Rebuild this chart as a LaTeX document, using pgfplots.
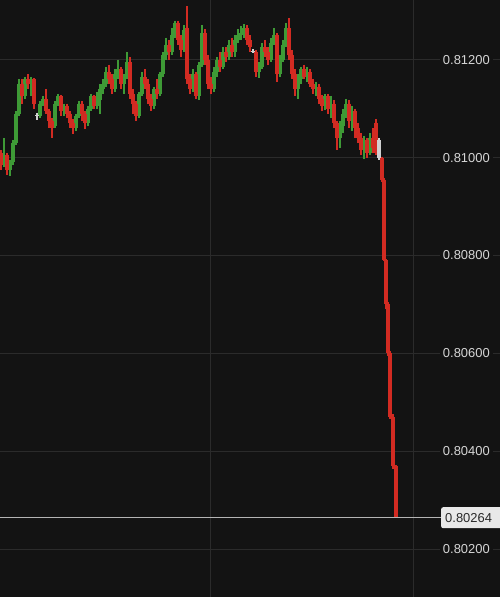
\documentclass[border=0pt]{standalone}
\usepackage{fontspec}
\setmainfont{Liberation Sans}
\usepackage{pgfplots}
\usepackage{pgfplotstable}
\pgfplotsset{compat=1.18}

\definecolor{bg}{HTML}{131313}
\definecolor{gridc}{HTML}{2B2B2B}
\definecolor{cred}{HTML}{D22B22}
\definecolor{cgreen}{HTML}{3E9A36}
\definecolor{cgray}{HTML}{D0D0D0}
\definecolor{lbl}{HTML}{D6D6D6}
\definecolor{boxc}{HTML}{E8E8E8}
\definecolor{boxt}{HTML}{2A2A2A}
\definecolor{lastc}{HTML}{B4B4B4}

% candles closing up (x o h l c)
\pgfplotstableread{
x o h l c
4 0.80985 0.81040 0.80980 0.81005
10 0.80975 0.80995 0.80962 0.80990
13 0.80990 0.81035 0.80985 0.81030
16 0.81030 0.81095 0.81025 0.81090
19 0.81090 0.81160 0.81085 0.81150
25 0.81125 0.81165 0.81120 0.81160
31 0.81150 0.81165 0.81125 0.81160
40 0.81085 0.81115 0.81080 0.81110
43 0.81110 0.81125 0.81105 0.81120
55 0.81065 0.81115 0.81060 0.81110
58 0.81110 0.81130 0.81105 0.81125
64 0.81095 0.81110 0.81085 0.81105
76 0.81060 0.81090 0.81055 0.81085
79 0.81085 0.81115 0.81080 0.81110
88 0.81070 0.81105 0.81065 0.81100
91 0.81100 0.81130 0.81095 0.81125
97 0.81105 0.81135 0.81100 0.81120
100 0.81118 0.81150 0.81090 0.81140
103 0.81140 0.81160 0.81130 0.81150
106 0.81150 0.81185 0.81145 0.81175
115 0.81140 0.81180 0.81135 0.81170
118 0.81170 0.81200 0.81160 0.81180
124 0.81150 0.81170 0.81130 0.81165
127 0.81165 0.81215 0.81160 0.81195
139 0.81085 0.81135 0.81080 0.81130
142 0.81130 0.81175 0.81125 0.81165
154 0.81105 0.81145 0.81100 0.81140
160 0.81130 0.81175 0.81125 0.81170
163 0.81170 0.81215 0.81165 0.81210
166 0.81210 0.81245 0.81200 0.81230
172 0.81215 0.81265 0.81210 0.81250
175 0.81250 0.81280 0.81245 0.81275
184 0.81220 0.81270 0.81215 0.81260
193 0.81140 0.81180 0.81135 0.81170
199 0.81125 0.81195 0.81118 0.81190
202 0.81190 0.81270 0.81185 0.81255
214 0.81140 0.81185 0.81135 0.81175
217 0.81175 0.81205 0.81165 0.81200
223 0.81185 0.81225 0.81180 0.81215
229 0.81205 0.81240 0.81200 0.81230
235 0.81215 0.81250 0.81205 0.81240
238 0.81240 0.81262 0.81235 0.81250
241 0.81250 0.81268 0.81240 0.81255
244 0.81255 0.81272 0.81245 0.81265
259 0.81175 0.81195 0.81162 0.81185
262 0.81185 0.81235 0.81180 0.81225
271 0.81200 0.81245 0.81195 0.81235
274 0.81235 0.81265 0.81230 0.81250
280 0.81170 0.81210 0.81165 0.81200
283 0.81200 0.81240 0.81195 0.81230
286 0.81230 0.81275 0.81225 0.81265
298 0.81140 0.81170 0.81120 0.81160
301 0.81160 0.81185 0.81150 0.81180
307 0.81165 0.81185 0.81155 0.81175
316 0.81140 0.81155 0.81125 0.81145
325 0.81105 0.81130 0.81098 0.81125
331 0.81100 0.81125 0.81080 0.81110
340 0.81040 0.81075 0.81020 0.81065
343 0.81065 0.81100 0.81050 0.81090
346 0.81090 0.81120 0.81080 0.81110
352 0.81075 0.81105 0.81055 0.81095
364 0.81015 0.81045 0.80998 0.81035
370 0.81010 0.81050 0.81005 0.81040
}\upcandles

% candles closing down
\pgfplotstableread{
x o h l c
1 0.81010 0.81015 0.80975 0.80985
7 0.81005 0.81010 0.80965 0.80975
22 0.81150 0.81160 0.81110 0.81125
28 0.81160 0.81170 0.81140 0.81150
34 0.81160 0.81162 0.81100 0.81110
46 0.81120 0.81140 0.81090 0.81095
49 0.81095 0.81100 0.81060 0.81075
52 0.81075 0.81080 0.81040 0.81060
61 0.81125 0.81128 0.81085 0.81095
67 0.81105 0.81110 0.81080 0.81090
70 0.81090 0.81095 0.81060 0.81070
73 0.81070 0.81078 0.81048 0.81060
82 0.81110 0.81115 0.81075 0.81090
85 0.81090 0.81095 0.81058 0.81070
94 0.81125 0.81128 0.81100 0.81105
109 0.81175 0.81190 0.81150 0.81160
112 0.81160 0.81170 0.81130 0.81140
121 0.81180 0.81185 0.81140 0.81150
130 0.81195 0.81205 0.81120 0.81130
133 0.81130 0.81140 0.81090 0.81110
136 0.81110 0.81115 0.81075 0.81085
145 0.81165 0.81180 0.81140 0.81150
148 0.81150 0.81160 0.81110 0.81120
151 0.81120 0.81130 0.81095 0.81105
157 0.81140 0.81160 0.81120 0.81130
169 0.81230 0.81240 0.81200 0.81215
178 0.81275 0.81280 0.81230 0.81240
181 0.81240 0.81250 0.81205 0.81220
187 0.81265 0.81310 0.81150 0.81160
190 0.81160 0.81170 0.81130 0.81140
196 0.81170 0.81175 0.81120 0.81125
205 0.81255 0.81262 0.81190 0.81200
208 0.81200 0.81210 0.81140 0.81150
211 0.81150 0.81165 0.81130 0.81140
220 0.81200 0.81215 0.81175 0.81185
226 0.81215 0.81225 0.81195 0.81205
232 0.81230 0.81245 0.81205 0.81215
247 0.81265 0.81270 0.81230 0.81240
250 0.81240 0.81250 0.81215 0.81225
256 0.81215 0.81220 0.81165 0.81175
265 0.81225 0.81240 0.81205 0.81215
268 0.81215 0.81225 0.81190 0.81200
277 0.81250 0.81255 0.81155 0.81170
289 0.81265 0.81285 0.81200 0.81210
292 0.81210 0.81220 0.81160 0.81170
295 0.81170 0.81180 0.81125 0.81140
304 0.81180 0.81190 0.81160 0.81165
310 0.81175 0.81180 0.81145 0.81150
313 0.81150 0.81160 0.81130 0.81140
319 0.81145 0.81150 0.81110 0.81120
322 0.81120 0.81128 0.81095 0.81105
328 0.81125 0.81130 0.81090 0.81100
334 0.81110 0.81118 0.81060 0.81070
337 0.81070 0.81075 0.81016 0.81040
349 0.81110 0.81118 0.81060 0.81075
355 0.81095 0.81100 0.81040 0.81060
358 0.81060 0.81070 0.81030 0.81040
361 0.81040 0.81050 0.81005 0.81015
367 0.81035 0.81040 0.81000 0.81010
373 0.81040 0.81060 0.81010 0.81020
376 0.81070 0.81078 0.81005 0.81010
382 0.81000 0.81002 0.80950 0.80955
384 0.80955 0.80958 0.80788 0.80790
386 0.80790 0.80792 0.80690 0.80700
388 0.80700 0.80705 0.80594 0.80600
390 0.80600 0.80605 0.80465 0.80470
393 0.80470 0.80475 0.80363 0.80370
396 0.80370 0.80372 0.80264 0.80266
}\downcandles

% near-doji candles drawn in grey
\pgfplotstableread{
x o h l c
37 0.81086 0.81092 0.81077 0.81084
253 0.81218 0.81221 0.81213 0.81216
379 0.81035 0.81040 0.80995 0.81000
}\flatcandles

\begin{document}
\begin{tikzpicture}
\begin{axis}[
  width=500bp, height=597bp, scale only axis,
  xmin=0, xmax=500,
  ymin=0.80102, ymax=0.81322,
  axis background/.style={fill=bg},
  axis line style={draw=none},
  major tick length=0pt,
  xtick={210,413}, xticklabels={,},
  ytick={0.802,0.804,0.806,0.808,0.810,0.812},
  yticklabels={0.80200,0.80400,0.80600,0.80800,0.81000,0.81200},
  yticklabel pos=right,
  yticklabel style={anchor=east, xshift=-7bp, fill=bg, inner xsep=3bp, inner ysep=2bp,
    text=lbl, font=\fontsize{13}{15}\selectfont},
  xmajorgrids, ymajorgrids,
  major grid style={draw=gridc, line width=1bp},
  clip=false,
]
% wicks
\addplot[draw=none, mark=none, error bars/.cd, y dir=minus, y explicit, error mark=none,
  error bar style={cgreen, line width=1.2bp}]
  table[x=x, y=h, y error minus expr=\thisrow{h}-\thisrow{l}] {\upcandles};
\addplot[draw=none, mark=none, error bars/.cd, y dir=minus, y explicit, error mark=none,
  error bar style={cred, line width=1.2bp}]
  table[x=x, y=h, y error minus expr=\thisrow{h}-\thisrow{l}] {\downcandles};
\addplot[draw=none, mark=none, error bars/.cd, y dir=minus, y explicit, error mark=none,
  error bar style={cgray, line width=1.2bp}]
  table[x=x, y=h, y error minus expr=\thisrow{h}-\thisrow{l}] {\flatcandles};
% bodies
\addplot[draw=none, mark=none, error bars/.cd, y dir=minus, y explicit, error mark=none,
  error bar style={cgreen, line width=3.6bp}]
  table[x=x, y=c, y error minus expr=\thisrow{c}-\thisrow{o}] {\upcandles};
\addplot[draw=none, mark=none, error bars/.cd, y dir=minus, y explicit, error mark=none,
  error bar style={cred, line width=3.6bp}]
  table[x=x, y=o, y error minus expr=\thisrow{o}-\thisrow{c}] {\downcandles};
\addplot[draw=none, mark=none, error bars/.cd, y dir=minus, y explicit, error mark=none,
  error bar style={cgray, line width=3.6bp}]
  table[x=x, y=o, y error minus expr=\thisrow{o}-\thisrow{c}] {\flatcandles};
% last price line and its label
\addplot[draw=lastc, line width=1bp, mark=none] coordinates {(0,0.80264) (443,0.80264)};
\node[anchor=west, fill=boxc, text=boxt, rounded corners=2bp, inner xsep=4bp,
  minimum height=21bp, minimum width=64bp, align=left,
  font=\fontsize{13}{15}\selectfont] at (axis cs:441,0.80264) {0.80264\hspace{12bp}};
\end{axis}
\pgfresetboundingbox
\path[use as bounding box] (current axis.south west) rectangle (current axis.north east);
\end{tikzpicture}
\end{document}
